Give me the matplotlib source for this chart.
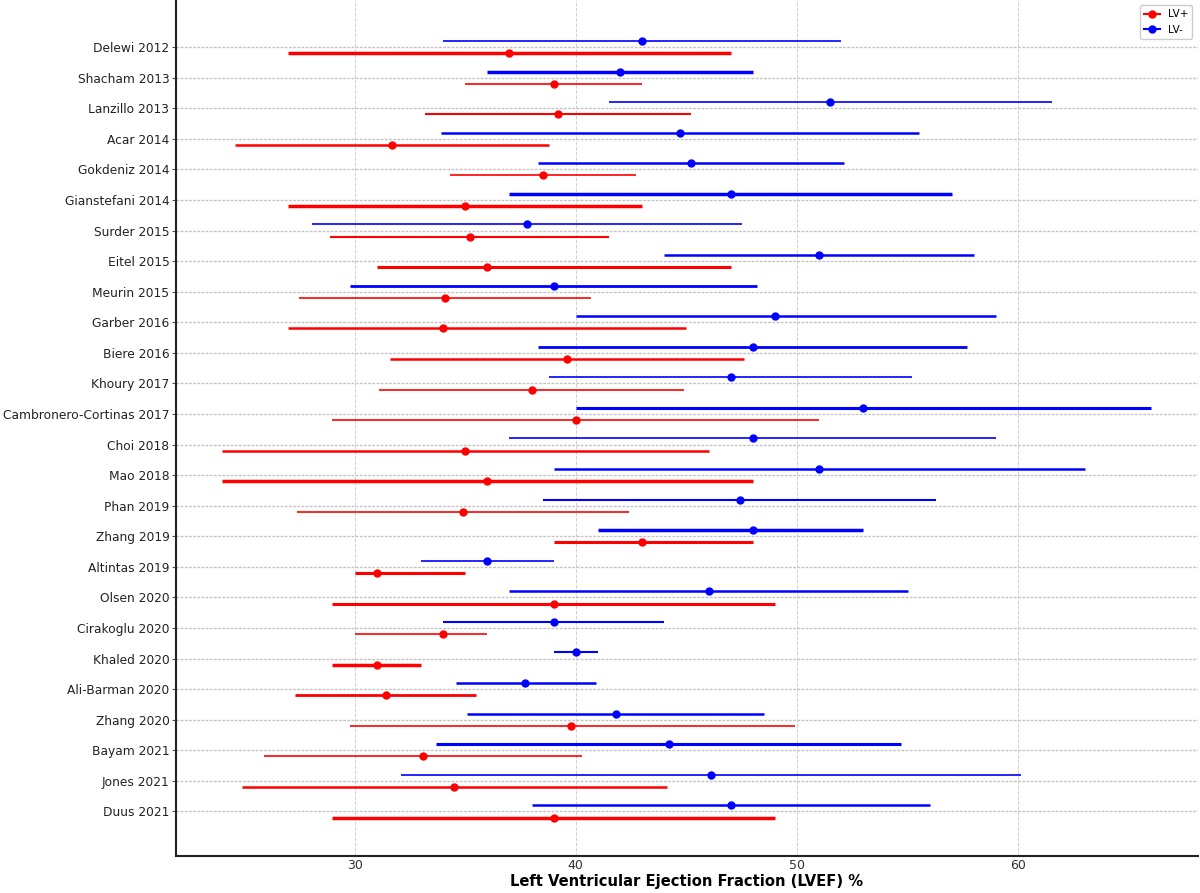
import numpy as np
import matplotlib
matplotlib.use("Agg")
import matplotlib.pyplot as plt

# studies, top to bottom
studies = ["Delewi 2012", "Shacham 2013", "Lanzillo 2013", "Acar 2014", "Gokdeniz 2014",
           "Gianstefani 2014", "Surder 2015", "Eitel 2015", "Meurin 2015", "Garber 2016",
           "Biere 2016", "Khoury 2017", "Cambronero-Cortinas 2017", "Choi 2018", "Mao 2018",
           "Phan 2019", "Zhang 2019", "Altintas 2019", "Olsen 2020", "Cirakoglu 2020",
           "Khaled 2020", "Ali-Barman 2020", "Zhang 2020", "Bayam 2021", "Jones 2021", "Duus 2021"]

# LV+ (red): mean, lower, upper
pos_mean = [37, 39, 39.2, 31.7, 38.5, 35, 35.2, 36, 34.1, 34, 39.6, 38, 40, 35, 36,
            34.9, 43, 31, 39, 34, 31, 31.4, 39.8, 33.1, 34.5, 39]
pos_low = [27, 35, 33.2, 24.6, 34.3, 27, 28.9, 31, 27.5, 27, 31.6, 31.1, 29, 24, 24,
           27.4, 39, 30, 29, 30, 29, 27.3, 29.8, 25.9, 24.9, 29]
pos_high = [47, 43, 45.2, 38.8, 42.7, 43, 41.5, 47, 40.7, 45, 47.6, 44.9, 51, 46, 48,
            42.4, 48, 35, 49, 36, 33, 35.5, 49.9, 40.3, 44.1, 49]

# LV- (blue): mean, lower, upper
neg_mean = [43, 42, 51.5, 44.7, 45.2, 47, 37.8, 51, 39, 49, 48, 47, 53, 48, 51,
            47.4, 48, 36, 46, 39, 40, 37.7, 41.8, 44.2, 46.1, 47]
neg_low = [34, 36, 41.5, 33.9, 38.3, 37, 28.1, 44, 29.8, 40, 38.3, 38.8, 40, 37, 39,
           38.5, 41, 33, 37, 34, 39, 34.6, 35.1, 33.7, 32.1, 38]
neg_high = [52, 48, 61.5, 55.5, 52.1, 57, 47.5, 58, 48.2, 59, 57.7, 55.2, 66, 59, 63,
            56.3, 53, 39, 55, 44, 41, 40.9, 48.5, 54.7, 60.1, 56]

# relative study weight (drawn as line thickness)
pos_weight = [2.5, 1.2, 1.5, 1.8, 1.2, 2.5, 1.5, 2.2, 1.2, 1.8, 1.8, 1.2, 1.2, 1.8, 2.5,
              1.2, 2.2, 2.2, 2.2, 1.2, 2.5, 2.0, 1.2, 1.2, 1.8, 2.5]
neg_weight = [1.2, 2.5, 1.2, 1.8, 1.8, 2.5, 1.2, 1.8, 2.0, 1.8, 2.0, 1.2, 2.2, 1.2, 1.8,
              1.5, 2.5, 1.2, 1.8, 1.5, 1.5, 1.8, 1.8, 2.2, 1.2, 1.8]

y = np.arange(len(studies))
off = 0.2

fig = plt.figure(figsize=(12, 8.93), dpi=100)
ax = fig.add_axes([0.147, 0.041, 0.851, 0.959])

for i in range(len(studies)):
    ax.hlines(y[i] + off, pos_low[i], pos_high[i], color='red', lw=pos_weight[i], zorder=3)
    ax.plot(pos_mean[i], y[i] + off, 'o', color='red', ms=5, zorder=4)
    ax.hlines(y[i] - off, neg_low[i], neg_high[i], color='blue', lw=neg_weight[i], zorder=3)
    ax.plot(neg_mean[i], y[i] - off, 'o', color='blue', ms=5, zorder=4)

# legend proxies
ax.plot([], [], 'o-', color='red', ms=5, label='LV+')
ax.plot([], [], 'o-', color='blue', ms=5, label='LV-')
ax.legend(loc='upper right', fontsize=7.5, handlelength=1.5, framealpha=1, edgecolor='#cccccc')

ax.set_yticks(y)
ax.set_yticklabels(studies, fontsize=8.8, color='#222222')
ax.set_ylim(len(studies) - 1 + 1.47, -1.54)
ax.set_xlim(21.95, 68.1)
ax.set_xticks([30, 40, 50, 60])
ax.tick_params(axis='x', labelsize=9, colors='#333333', length=0, pad=2)
ax.tick_params(axis='y', length=3, width=0.8, color='#555555', pad=2)
ax.set_xlabel('Left Ventricular Ejection Fraction (LVEF) %', fontsize=10.6, fontweight='bold',
              labelpad=1)

ax.grid(axis='y', color='#c4c4c4', ls=(0, (2, 1)), lw=1.0, zorder=0)
ax.grid(axis='x', color='#d0d0d0', ls='--', lw=0.7, zorder=0)

for s in ['top', 'right']:
    ax.spines[s].set_visible(False)
for s in ['left', 'bottom']:
    ax.spines[s].set_linewidth(1.5)
    ax.spines[s].set_color('#222222')

fig.savefig('out.png', dpi=100)
